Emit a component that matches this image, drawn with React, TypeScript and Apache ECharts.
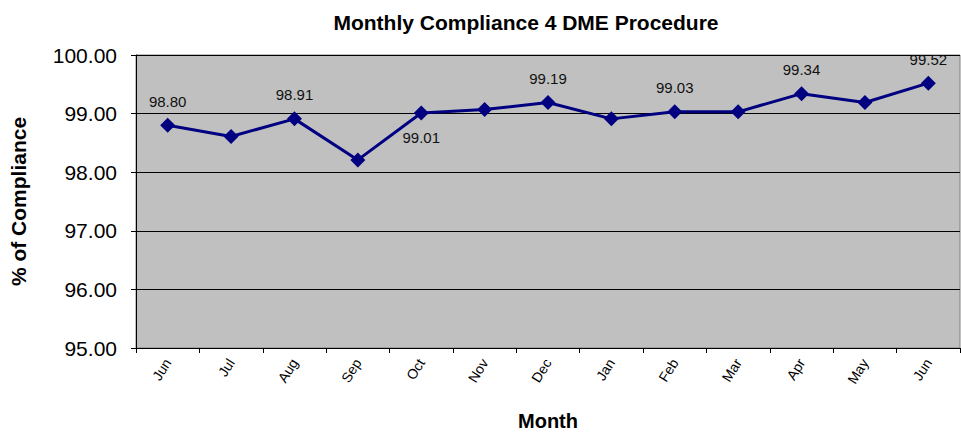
import React, { useEffect, useRef } from "react";
import * as echarts from "echarts";

const months = ["Jun", "Jul", "Aug", "Sep", "Oct", "Nov", "Dec", "Jan", "Feb", "Mar", "Apr", "May", "Jun"];
const compliance = [98.8, 98.61, 98.91, 98.21, 99.01, 99.07, 99.19, 98.91, 99.03, 99.03, 99.34, 99.19, 99.52];
// label placement per point: "top", "bottom" or "" (no label)
const labelPos = ["top", "", "top", "", "bottom", "", "top", "", "top", "", "top", "", "top"];
const yTicks = { min: 95, max: 100, interval: 1 };

export default function App() {
  const ref = useRef<HTMLDivElement>(null);
  useEffect(() => {
    if (!ref.current) return;
    const chart = echarts.init(ref.current, null, { renderer: "svg" });
    const data = compliance.map((v, i) => ({
      value: v,
      label: labelPos[i]
        ? { show: true, position: labelPos[i], distance: 9 }
        : { show: false },
    }));
    chart.setOption({
      animation: false,
      backgroundColor: "#ffffff",
      title: {
        text: "Monthly Compliance 4 DME Procedure",
        left: 521,
        textAlign: "center",
        top: 7,
        textStyle: { fontFamily: "Arial, Liberation Sans", fontSize: 21, fontWeight: "bold", color: "#000" },
      },
      grid: {
        left: 136,
        right: 1,
        top: 55,
        bottom: 85,
        outerBoundsMode: "none",
        containLabel: false,
        show: true,
        backgroundColor: "#C0C0C0",
        borderColor: "#808080",
        borderWidth: 1,
      },
      xAxis: {
        type: "category",
        data: months,
        boundaryGap: true,
        name: "Month",
        nameLocation: "middle",
        nameGap: 63,
        nameTextStyle: { fontFamily: "Arial, Liberation Sans", fontSize: 20, fontWeight: "bold", color: "#000" },
        axisLine: { lineStyle: { color: "#000", width: 1 } },
        axisTick: { show: true, length: 5, lineStyle: { color: "#000" } },
        axisLabel: {
          rotate: 58,
          margin: 12,
          fontFamily: "Arial, Liberation Sans",
          fontSize: 14,
          color: "#000",
        },
      },
      yAxis: {
        type: "value",
        min: yTicks.min,
        max: yTicks.max,
        interval: yTicks.interval,
        name: "% of Compliance",
        nameLocation: "middle",
        nameGap: 107,
        nameRotate: 90,
        nameTextStyle: { fontFamily: "Arial, Liberation Sans", fontSize: 21, fontWeight: "bold", color: "#000" },
        axisLine: { show: true, lineStyle: { color: "#000", width: 1 } },
        axisTick: { show: true, length: 5, lineStyle: { color: "#000" } },
        axisLabel: {
          formatter: (v: number) => v.toFixed(2),
          fontFamily: "Arial, Liberation Sans",
          fontSize: 21,
          color: "#000",
          margin: 19,
        },
        splitLine: { show: true, lineStyle: { color: "#000", width: 1 } },
      },
      series: [
        {
          type: "line",
          data,
          symbol: "diamond",
          symbolSize: 15,
          lineStyle: { color: "#000080", width: 3 },
          itemStyle: { color: "#000080" },
          label: {
            formatter: (p: any) => Number(p.value).toFixed(2),
            fontFamily: "Arial, Liberation Sans",
            fontSize: 15,
            color: "#111",
          },
        },
      ],
    });
    return () => chart.dispose();
  }, []);
  return (
    <div
      ref={ref}
      style={{ position: "fixed", left: 0, top: 0, width: 961, height: 433 }}
    />
  );
}
